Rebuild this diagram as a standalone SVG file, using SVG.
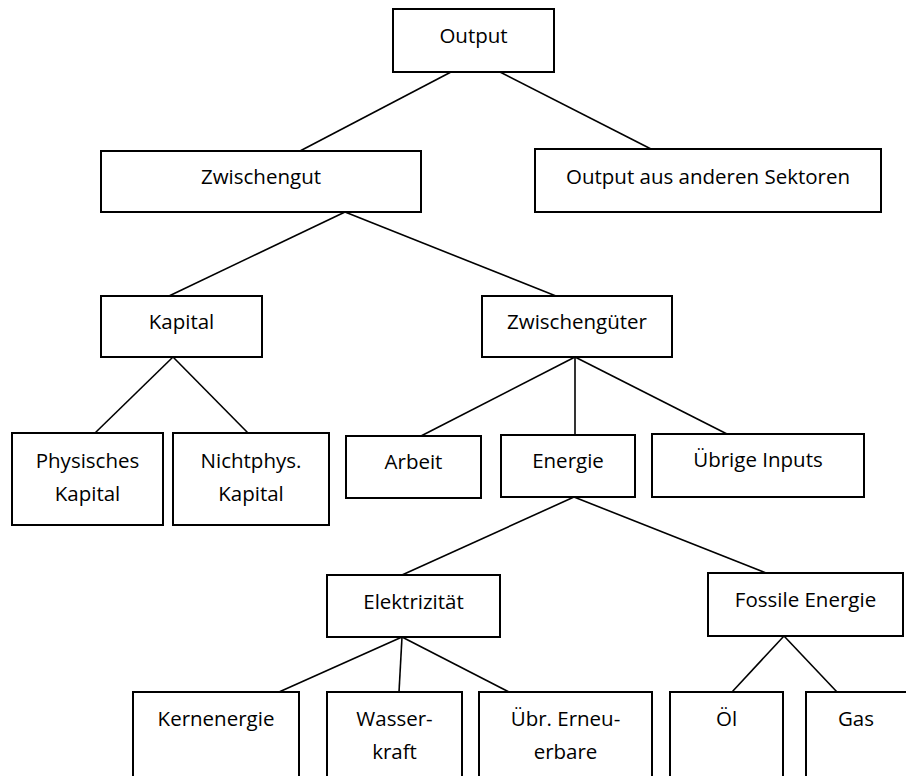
<svg xmlns="http://www.w3.org/2000/svg" width="906" height="776" viewBox="0 0 906 776">
<style>
rect{fill:#fff;stroke:#000;stroke-width:2}
#connectors line{stroke:#000;stroke-width:1.6}
text{font-family:"Open Sans","Liberation Sans",sans-serif;font-size:20.5px;fill:#000;text-anchor:middle}
</style>
<rect x="0" y="0" width="906" height="776" style="stroke:none"/>
<g id="connectors">
<line x1="451" y1="72" x2="300" y2="151"/>
<line x1="500" y1="72" x2="651" y2="149"/>
<line x1="345" y1="212" x2="169" y2="296"/>
<line x1="345" y1="212" x2="556" y2="296"/>
<line x1="173" y1="357" x2="95" y2="433"/>
<line x1="173" y1="357" x2="248" y2="433"/>
<line x1="575" y1="357" x2="421" y2="436"/>
<line x1="575" y1="357" x2="575" y2="435"/>
<line x1="575" y1="357" x2="727" y2="434"/>
<line x1="574" y1="497" x2="402" y2="575"/>
<line x1="574" y1="497" x2="766" y2="573"/>
<line x1="402" y1="637" x2="279" y2="692"/>
<line x1="402" y1="637" x2="399" y2="692"/>
<line x1="402" y1="637" x2="509" y2="692"/>
<line x1="784" y1="636" x2="732" y2="692"/>
<line x1="784" y1="636" x2="837" y2="692"/>
</g>
<g id="output"><rect x="393" y="9" width="161" height="63"/><text x="473.5" y="43">Output</text></g>
<g id="zwischengut"><rect x="101" y="151" width="320" height="61"/><text x="261" y="184">Zwischengut</text></g>
<g id="output-aus-anderen-sektoren"><rect x="535" y="149" width="346" height="63"/><text x="708" y="184">Output aus anderen Sektoren</text></g>
<g id="kapital"><rect x="101" y="296" width="161" height="61"/><text x="181.5" y="329">Kapital</text></g>
<g id="zwischengueter"><rect x="482" y="296" width="190" height="61"/><text x="577" y="329">Zwischengüter</text></g>
<g id="physisches-kapital"><rect x="12" y="433" width="151" height="92"/><text x="87.5" y="468">Physisches</text><text x="87.5" y="501">Kapital</text></g>
<g id="nichtphys-kapital"><rect x="173" y="433" width="156" height="92"/><text x="251" y="468">Nichtphys.</text><text x="251" y="501">Kapital</text></g>
<g id="arbeit"><rect x="346" y="436" width="135" height="62"/><text x="413.5" y="469">Arbeit</text></g>
<g id="energie"><rect x="501" y="435" width="134" height="62"/><text x="568" y="468">Energie</text></g>
<g id="uebrige-inputs"><rect x="652" y="434" width="212" height="63"/><text x="758" y="467">Übrige Inputs</text></g>
<g id="elektrizitaet"><rect x="327" y="575" width="173" height="62"/><text x="413.5" y="609">Elektrizität</text></g>
<g id="fossile-energie"><rect x="708" y="573" width="195" height="63"/><text x="805.5" y="607">Fossile Energie</text></g>
<g id="kernenergie"><rect x="133" y="692" width="166" height="90"/><text x="216" y="726">Kernenergie</text></g>
<g id="wasserkraft"><rect x="327" y="692" width="135" height="90"/><text x="394.5" y="726">Wasser-</text><text x="394.5" y="759">kraft</text></g>
<g id="uebr-erneuerbare"><rect x="479" y="692" width="173" height="90"/><text x="565.5" y="726">Übr. Erneu-</text><text x="565.5" y="759">erbare</text></g>
<g id="oel"><rect x="670" y="692" width="113" height="90"/><text x="726.5" y="726">Öl</text></g>
<g id="gas"><rect x="806" y="692" width="110" height="90"/><text x="856" y="726">Gas</text></g>
</svg>
